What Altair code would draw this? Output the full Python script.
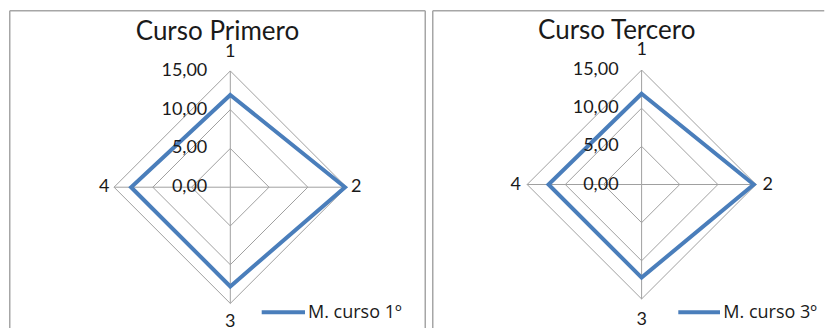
import math
import altair as alt
import pandas as pd

# ---------------- data ----------------
axis_labels = ["1", "2", "3", "4"]
titles = ["Curso Primero", "Curso Tercero"]
series_names = ["M. curso 1º", "M. curso 3º"]
values_primero = [11.9, 14.8, 12.8, 12.8]
values_tercero = [11.9, 14.7, 12.2, 12.2]
ring_values = [5, 10, 15]
tick_values = [0, 5, 10, 15]
tick_labels = ["0,00", "5,00", "10,00", "15,00"]
r_max = 15

BLUE = "#4A7EBB"
GRID = "#A0A0A0"
BORDER = "#A6A6A6"
FONT = "Lato"
TEXT = "#1a1a1a"

PANEL_H = 318


def panel(title, series_name, values, width, cx, cy, ppu, title_x, title_y,
          leg_x1, leg_x2, leg_y, leg_tx, leg_ty, right_border):
    # scale domains so that the centre lands at (cx, cy) px with ppu px per unit
    dom_x = [-cx / ppu, (width - cx) / ppu]
    dom_y = [-(PANEL_H - cy) / ppu, cy / ppu]
    xs = alt.Scale(domain=dom_x, nice=False, zero=False)
    ys = alt.Scale(domain=dom_y, nice=False, zero=False)
    X = lambda f: alt.X(f, scale=xs, axis=None)
    Y = lambda f: alt.Y(f, scale=ys, axis=None)

    ang = "datum.idx * PI / 2"

    series_df = pd.DataFrame({"idx": range(len(axis_labels)),
                              "axis": axis_labels, "value": values,
                              "serie": series_name})
    grid_df = pd.DataFrame([{"ring": r, "idx": i}
                            for r in ring_values for i in range(len(axis_labels))])
    spoke_df = pd.DataFrame({"idx": range(len(axis_labels)), "r": r_max})
    tick_df = pd.DataFrame({"v": tick_values, "lab": tick_labels})
    lab_df = pd.DataFrame({"idx": range(len(axis_labels)), "lab": axis_labels})

    rings = alt.Chart(grid_df).transform_calculate(
        x=f"datum.ring * sin({ang})", y=f"datum.ring * cos({ang})"
    ).mark_line(interpolate="linear-closed", color=GRID, strokeWidth=1).encode(
        x=X("x:Q"), y=Y("y:Q"), detail="ring:N", order="idx:Q")

    spokes = alt.Chart(spoke_df).transform_calculate(
        x0="0", y0="0",
        x=f"datum.r * sin({ang})", y=f"datum.r * cos({ang})"
    ).mark_rule(color=GRID, strokeWidth=1).encode(
        x=X("x0:Q"), y=Y("y0:Q"), x2="x:Q", y2="y:Q")

    line = alt.Chart(series_df).transform_calculate(
        x=f"datum.value * sin({ang})", y=f"datum.value * cos({ang})"
    ).mark_line(interpolate="linear-closed", color=BLUE, strokeWidth=4,
                strokeJoin="miter").encode(
        x=X("x:Q"), y=Y("y:Q"), order="idx:Q")

    ticks = alt.Chart(tick_df).transform_calculate(x0="0").mark_text(
        align="right", baseline="middle", dx=-23, fontSize=18, font=FONT,
        color=TEXT).encode(x=X("x0:Q"), y=Y("v:Q"), text="lab:N")

    lab_v = 135 / ppu
    lab_h = 126 / ppu
    labels = alt.Chart(lab_df).transform_calculate(
        rr=f"datum.idx % 2 == 0 ? {lab_v} : {lab_h}",
        x=f"datum.rr * sin({ang})", y=f"datum.rr * cos({ang})"
    ).mark_text(align="center", baseline="middle", fontSize=18, font=FONT,
                color=TEXT).encode(x=X("x:Q"), y=Y("y:Q"), text="lab:N")

    tdf = pd.DataFrame({"t": [title]})
    title_mark = alt.Chart(tdf).mark_text(
        align="center", baseline="alphabetic", fontSize=26, font=FONT,
        color=TEXT).encode(x=alt.value(title_x), y=alt.value(title_y), text="t:N")

    ldf = pd.DataFrame({"s": [series_name]})
    leg_line = alt.Chart(ldf).mark_rule(color=BLUE, strokeWidth=4).encode(
        x=alt.value(leg_x1), x2=alt.value(leg_x2), y=alt.value(leg_y))
    leg_text = alt.Chart(ldf).mark_text(
        align="left", baseline="alphabetic", fontSize=18, font="Open Sans",
        color=TEXT).encode(x=alt.value(leg_tx), y=alt.value(leg_ty), text="s:N")

    bdf = pd.DataFrame({"b": [0]})
    borders = [
        alt.Chart(bdf).mark_rule(color=BORDER, strokeWidth=1.5).encode(
            x=alt.value(0.75), x2=alt.value(width - 0.75), y=alt.value(0.75)),
        alt.Chart(bdf).mark_rule(color=BORDER, strokeWidth=1.5).encode(
            x=alt.value(0.75), y=alt.value(0.75), y2=alt.value(PANEL_H)),
    ]
    if right_border:
        borders.append(
            alt.Chart(bdf).mark_rule(color=BORDER, strokeWidth=1.5).encode(
                x=alt.value(width - 0.75), y=alt.value(0.75), y2=alt.value(PANEL_H)))

    return alt.layer(rings, spokes, line, ticks, labels, title_mark,
                     leg_line, leg_text, *borders).properties(
        width=width, height=PANEL_H)


p1 = panel(titles[0], series_names[0], values_primero, 417,
           cx=221.3, cy=177.2, ppu=7.75, title_x=208.5, title_y=29.5,
           leg_x1=252.7, leg_x2=296, leg_y=302.3, leg_tx=299, leg_ty=308,
           right_border=True)
p2 = panel(titles[1], series_names[1], values_tercero, 393,
           cx=209.6, cy=174.5, ppu=7.63, title_x=184.7, title_y=29,
           leg_x1=246.3, leg_x2=288, leg_y=302.3, leg_tx=291.3, leg_ty=308,
           right_border=False)

chart = alt.hconcat(p1, p2, spacing=6).properties(
    padding={"left": 1, "top": 2, "right": 0, "bottom": 0},
    background="white",
).configure_view(stroke=None)

chart.save("out.html", embed_options={"renderer": "svg", "actions": False})
